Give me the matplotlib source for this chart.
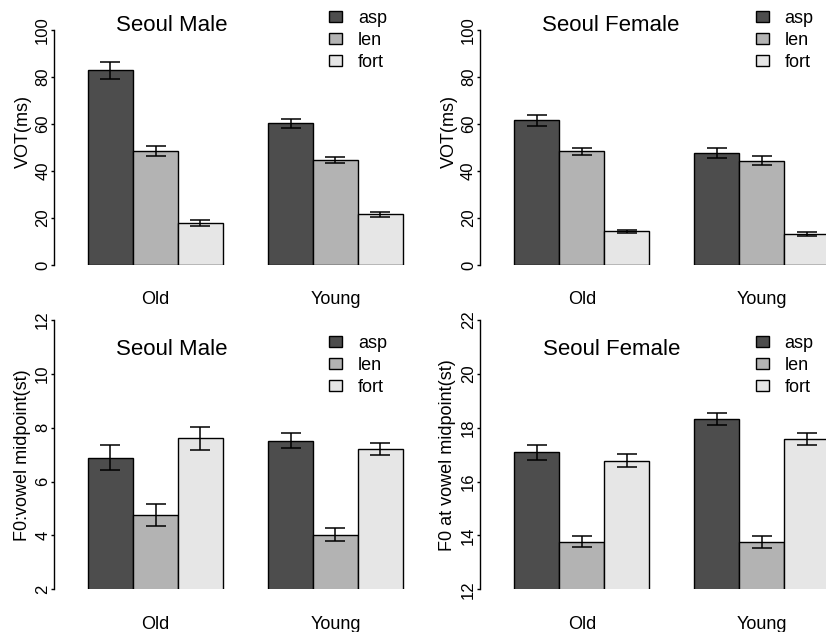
import matplotlib
matplotlib.use("Agg")
import matplotlib.pyplot as plt
import numpy as np

plt.rcParams['font.family'] = ['Liberation Sans', 'DejaVu Sans']

groups = ["Old", "Young"]
series = ["asp", "len", "fort"]
colors = ["#4d4d4d", "#b3b3b3", "#e6e6e6"]

# VOT (ms), rows = Old / Young, cols = asp / len / fort
vot_male = [[82.8, 48.6, 18.0], [60.3, 44.7, 21.6]]
vot_male_se = [[3.7, 2.2, 1.2], [2.0, 1.3, 1.0]]
vot_female = [[61.5, 48.3, 14.3], [47.7, 44.4, 13.2]]
vot_female_se = [[2.2, 1.7, 0.75], [2.1, 2.0, 1.0]]

# F0 at vowel midpoint (st)
f0_male = [[6.89, 4.77, 7.60], [7.52, 4.03, 7.21]]
f0_male_se = [[0.46, 0.41, 0.42], [0.28, 0.25, 0.24]]
f0_female = [[17.08, 13.77, 16.78], [18.33, 13.77, 17.57]]
f0_female_se = [[0.28, 0.21, 0.25], [0.23, 0.22, 0.22]]

W, H = 826, 632
fig = plt.figure(figsize=(W / 100, H / 100), dpi=100)
BW = 45.0  # bar width in pixels


def panel(vals, errs, px_axis, px_bar1, py_top, py_bot, ylim, yticks,
          ylabel, ylab_xy, title, title_xy, leg_xy):
    px_right = px_axis + 365
    ax = fig.add_axes([px_axis / W, 1 - py_bot / H,
                       (px_right - px_axis) / W, (py_bot - py_top) / H])
    vals = np.array(vals)
    errs = np.array(errs)
    handles = []
    for s in range(3):
        lefts = np.array([1 + g * 4 + s for g in range(len(groups))])
        b = ax.bar(lefts, vals[:, s], width=1, align='edge', color=colors[s],
                   edgecolor='black', linewidth=1.0, label=series[s], zorder=2)
        handles.append(b)
        ax.errorbar(lefts + 0.5, vals[:, s], yerr=errs[:, s], fmt='none',
                    ecolor='black', elinewidth=1.1, capsize=7, capthick=1.1,
                    zorder=3)
    ax.set_xlim(1 - (px_bar1 - px_axis) / BW, 1 + (px_right - px_bar1) / BW)
    ax.set_ylim(*ylim)
    for sp in ['top', 'right', 'bottom']:
        ax.spines[sp].set_visible(False)
    ax.spines['left'].set_linewidth(1.0)
    ax.set_yticks(yticks)
    ax.set_yticklabels([str(t) for t in yticks], rotation=90, va='center',
                       fontsize=12)
    ax.tick_params(axis='y', length=2.2, width=1.0, pad=0.5)
    ax.set_xticks([1 + g * 4 + 1.5 for g in range(len(groups))])
    ax.set_xticklabels(groups, fontsize=13)
    ax.tick_params(axis='x', length=0, pad=19)
    fig.text(ylab_xy[0] / W, 1 - ylab_xy[1] / H, ylabel, rotation=90,
             ha='center', va='center', fontsize=13)
    fig.text(title_xy[0] / W, 1 - title_xy[1] / H, title,
             ha='center', va='center', fontsize=16)
    ax.legend(handles=handles, loc='upper left', frameon=False,
              bbox_to_anchor=(leg_xy[0] / W, 1 - leg_xy[1] / H),
              bbox_transform=fig.transFigure, borderaxespad=0, borderpad=0,
              handlelength=0.72, handleheight=0.55, handletextpad=0.89,
              labelspacing=0.28, fontsize=13)
    return ax


panel(vot_male, vot_male_se, 54, 88, 30, 265, (0, 100), [0, 20, 40, 60, 80, 100],
      "VOT(ms)", (23, 131), "Seoul Male", (171.7, 25.5), (329, 10))
panel(vot_female, vot_female_se, 479.7, 514.3, 30, 265, (0, 100),
      [0, 20, 40, 60, 80, 100],
      "VOT(ms)", (449.7, 131), "Seoul Female", (611, 25.5), (755.5, 10))
panel(f0_male, f0_male_se, 54, 88, 320, 589.3, (2, 12), [2, 4, 6, 8, 10, 12],
      "F0:vowel midpoint(st)", (23, 455), "Seoul Male", (171.7, 349.5),
      (329, 334.5))
panel(f0_female, f0_female_se, 479.7, 514.3, 320, 589.3, (12, 22),
      [12, 14, 16, 18, 20, 22],
      "F0 at vowel midpoint(st)", (448, 455), "Seoul Female", (611.3, 349.5),
      (755.5, 334.5))

fig.savefig("out.png", dpi=100)
